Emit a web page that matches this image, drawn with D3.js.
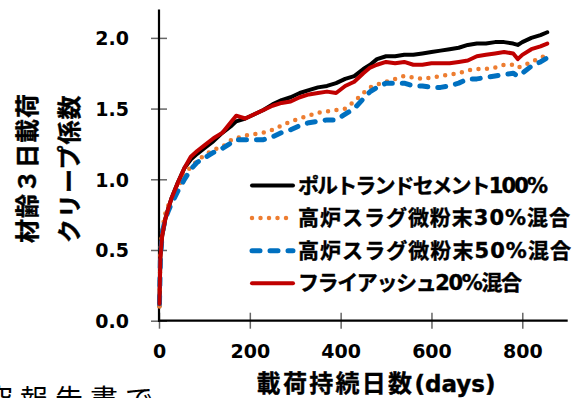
<!DOCTYPE html>
<html>
<head>
<meta charset="utf-8">
<script src="https://cdn.jsdelivr.net/npm/d3@7"></script>
<style>
  html, body { margin: 0; padding: 0; background: #fff; }
  svg { display: block; }
  .cjk { font-family: "Noto Sans CJK JP", sans-serif; font-weight: bold; }
  .num { font-family: "DejaVu Sans", sans-serif; font-weight: bold; }
</style>
</head>
<body>
<svg id="chart"></svg>
<script>
// values
const days = [1, 3, 7, 14, 21, 28, 42, 56, 70, 84, 100, 120, 140, 160, 170, 190, 210, 230, 250, 270,
              290, 310, 330, 350, 370, 390, 410, 430, 450, 465, 480, 500, 520, 540, 560, 580, 600, 620,
              640, 660, 680, 700, 720, 740, 760, 780, 790, 800, 820, 840, 855];

const opc100 = [0.10, 0.45, 0.60, 0.72, 0.80, 0.87, 0.98, 1.08, 1.14, 1.18, 1.22, 1.27, 1.33, 1.38, 1.41, 1.43, 1.46, 1.49, 1.53, 1.56,
                1.58, 1.61, 1.63, 1.65, 1.66, 1.68, 1.71, 1.73, 1.78, 1.81, 1.85, 1.87, 1.87, 1.88, 1.88, 1.89, 1.90, 1.91,
                1.92, 1.93, 1.95, 1.96, 1.96, 1.97, 1.97, 1.96, 1.95, 1.97, 2.00, 2.02, 2.04];

const bfs30 = [0.10, 0.48, 0.65, 0.76, 0.82, 0.86, 0.95, 1.03, 1.09, 1.13, 1.17, 1.21, 1.23, 1.28, 1.29, 1.31, 1.32, 1.33, 1.35, 1.38,
               1.41, 1.43, 1.45, 1.47, 1.48, 1.49, 1.50, 1.55, 1.61, 1.65, 1.67, 1.69, 1.71, 1.73, 1.72, 1.71, 1.72, 1.73,
               1.74, 1.75, 1.77, 1.78, 1.78, 1.79, 1.81, 1.81, 1.79, 1.80, 1.83, 1.86, 1.88];

const bfs50 = [0.12, 0.42, 0.62, 0.72, 0.78, 0.83, 0.92, 1.00, 1.07, 1.12, 1.15, 1.19, 1.22, 1.26, 1.28, 1.28, 1.28, 1.28, 1.30, 1.33,
               1.35, 1.38, 1.40, 1.41, 1.42, 1.42, 1.46, 1.50, 1.57, 1.62, 1.65, 1.68, 1.68, 1.68, 1.66, 1.66, 1.65, 1.65,
               1.66, 1.68, 1.71, 1.71, 1.72, 1.73, 1.74, 1.75, 1.73, 1.75, 1.80, 1.83, 1.86];

const fa20 = [0.12, 0.45, 0.60, 0.72, 0.80, 0.87, 0.98, 1.08, 1.16, 1.20, 1.24, 1.29, 1.33, 1.41, 1.45, 1.43, 1.46, 1.49, 1.52, 1.54,
              1.55, 1.58, 1.60, 1.61, 1.62, 1.61, 1.66, 1.69, 1.75, 1.79, 1.81, 1.83, 1.82, 1.83, 1.81, 1.81, 1.82, 1.82,
              1.82, 1.83, 1.84, 1.87, 1.88, 1.89, 1.90, 1.89, 1.85, 1.88, 1.92, 1.94, 1.96];

const seriesNames = ["ポルトランドセメント100%", "高炉スラグ微粉末30%混合", "高炉スラグ微粉末50%混合", "フライアッシュ20%混合"];
const xTicks = [0, 200, 400, 600, 800];
const yTicks = [0.0, 0.5, 1.0, 1.5, 2.0];

const width = 574, height = 398;
const svg = d3.select("#chart").attr("width", width).attr("height", height);

const x = d3.scaleLinear().domain([0, 900]).range([159, 567.7]);
const y = d3.scaleLinear().domain([0, 2.2]).range([320.7, 9.6]);

// line styles, same order as seriesNames; legendW = width of the legend label
const styles = [
    {color: "#000000", w: 4, dash: null, legendW: 250},
    {color: "#ED7D31", w: 4.5, dash: "0 8.5", legendW: 272},
    {color: "#0070C0", w: 5, dash: "8 10", legendW: 273},
    {color: "#C00000", w: 4, dash: null, legendW: 224}
];
const values = [opc100, bfs30, bfs50, fa20];

// axes
const yAxis = svg.append("g")
    .attr("transform", `translate(${x(0)},0)`)
    .call(d3.axisLeft(y).tickValues(yTicks).tickFormat(d3.format(".1f")).tickSize(8));
yAxis.select(".domain").remove();
yAxis.selectAll(".tick line").attr("x1", 8).attr("x2", -8).attr("stroke", "#666").attr("stroke-width", 1.5);
yAxis.selectAll(".tick text")
    .attr("class", "num").attr("x", -30).attr("dy", "0.36em")
    .attr("font-size", 19).attr("fill", "#000");

const xAxis = svg.append("g")
    .attr("transform", `translate(0,${y(0)})`)
    .call(d3.axisBottom(x).tickValues(xTicks).tickSize(8));
xAxis.select(".domain").remove();
xAxis.selectAll(".tick line").attr("y1", -8).attr("y2", 8).attr("stroke", "#666").attr("stroke-width", 1.5);
xAxis.selectAll(".tick text")
    .attr("class", "num").attr("y", 37).attr("dy", null)
    .attr("font-size", 19).attr("fill", "#000");

svg.append("line")
    .attr("x1", x(0)).attr("x2", x(0)).attr("y1", y(2.2)).attr("y2", y(0) + 1)
    .attr("stroke", "#000").attr("stroke-width", 2.2);
svg.append("line")
    .attr("x1", x(0) - 1).attr("x2", x(900)).attr("y1", y(0)).attr("y2", y(0))
    .attr("stroke", "#000").attr("stroke-width", 2.2);

// curves
const line = d3.line().x((d, i) => x(days[i])).y(d => y(d));
values.forEach((vals, k) => {
    const s = styles[k];
    svg.append("path")
        .datum(vals)
        .attr("d", line)
        .attr("fill", "none")
        .attr("stroke", s.color)
        .attr("stroke-width", s.w)
        .attr("stroke-linecap", "round")
        .attr("stroke-linejoin", "round")
        .attr("stroke-dasharray", s.dash);
});

// legend
const legend = svg.append("g");
seriesNames.forEach((name, k) => {
    const s = styles[k];
    const ly = 185.5 + k * 32.6;
    legend.append("line")
        .attr("x1", 252).attr("x2", 293).attr("y1", ly).attr("y2", ly)
        .attr("stroke", s.color).attr("stroke-width", s.w)
        .attr("stroke-linecap", "round").attr("stroke-dasharray", s.dash);
    legend.append("text")
        .attr("x", 298).attr("y", ly)
        .attr("dominant-baseline", "central")
        .attr("font-size", 21)
        .attr("font-weight", "bold")
        .attr("font-family", "'DejaVu Sans', 'Noto Sans CJK JP', sans-serif")
        .attr("stroke", "#000").attr("stroke-width", 0.4)
        .attr("textLength", s.legendW)
        .attr("lengthAdjust", "spacing")
        .text(name);
});

// axis titles
const xt = svg.append("text")
    .attr("x", 376).attr("y", 392)
    .attr("text-anchor", "middle")
    .attr("stroke", "#000").attr("stroke-width", 0.4);
xt.append("tspan").attr("class", "cjk").attr("font-size", 24).attr("letter-spacing", 2.3).text("載荷持続日数");
xt.append("tspan").attr("class", "num").attr("font-size", 23).text("(days)");

["材齢３日載荷", "クリープ係数"].forEach((t, k) => {
    const cx = 25 + k * 42;
    svg.append("text")
        .attr("class", "cjk")
        .attr("transform", `translate(${cx},243) rotate(-90)`)
        .attr("dominant-baseline", "central")
        .attr("font-size", 24)
        .attr("letter-spacing", 1)
        .attr("stroke", "#000").attr("stroke-width", 0.4)
        .text(t);
});

// clipped text from the surrounding page
svg.append("text")
    .attr("x", -15).attr("y", 410)
    .attr("font-family", "'Noto Sans CJK JP', sans-serif")
    .attr("font-size", 28)
    .attr("letter-spacing", 7)
    .attr("fill", "#000")
    .text("究報告書で");
</script>
</body>
</html>
